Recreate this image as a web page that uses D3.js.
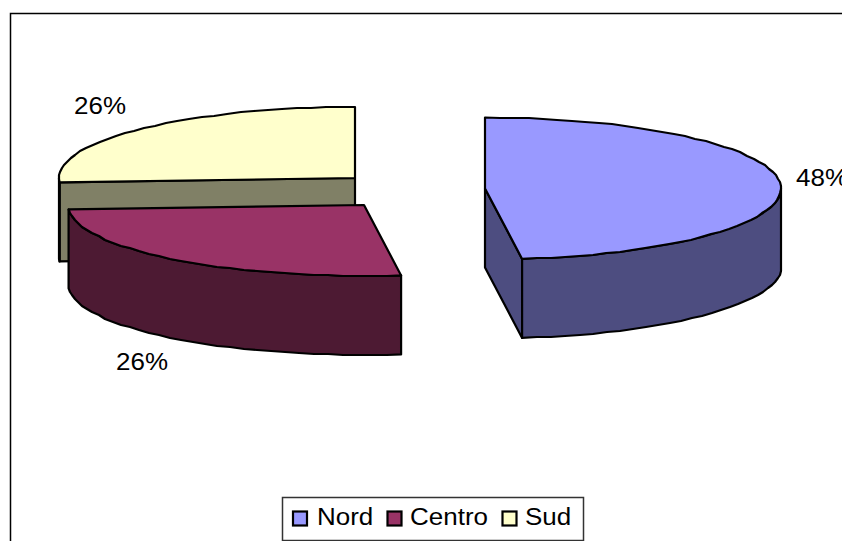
<!DOCTYPE html>
<html><head><meta charset="utf-8">
<script src="https://cdn.jsdelivr.net/npm/d3@7"></script>
<style>html,body{margin:0;padding:0;background:#fff;overflow:hidden}svg{display:block}text{font-family:"Liberation Sans",Arial,sans-serif;fill:#000}</style>
</head><body><svg id="c" width="842" height="541"></svg>
<script>
const categories = ["Nord","Centro","Sud"];
const values = [48,26,26];
const labels = ["48%","26%","26%"];
const topColors = ["#9999FF","#993366","#FFFFCC"];
const sideColors = ["#4D4D80","#4D1A33","#808066"];
const centers = [[485,188.5],[364,205],[355,178]];
const labelPos = [[796,186],[116,370],[74,114]];
const RX = 296, RY = 71, DEPTH = 79;
const STRETCH = 1.13;

const svg = d3.select("#c");
svg.append("path").attr("d","M10.5,541V13.5H842").attr("fill","none").attr("stroke","#000").attr("stroke-width",1.5);

const arcs = d3.pie().sort(null)(values);
const pt = (c,a,dy=0)=>[c[0]+RX*Math.sin(a), c[1]-RY*Math.cos(a)+dy];
const line = d3.line();
// the reference's curved edges are slightly stepped polylines: sample and snap to whole pixels
const arcPts=(c,a0,a1,dy=0)=>{
  const n=Math.max(2,Math.ceil((a1-a0)/0.05));
  return d3.range(n+1).map(i=>{
    const p=pt(c,a0+(a1-a0)*i/n,dy);
    return (i===0||i===n)?p:[Math.round(p[0]),Math.round(p[1])];
  });
};
const style=(s,f)=>s.attr("fill",f).attr("stroke","#000").attr("stroke-width",2.2).attr("stroke-linejoin","round");
function face(c,a0,a1){ return line([c,...arcPts(c,a0,a1)])+"Z"; }
function outer(c,a0,a1){ return line([...arcPts(c,a0,a1),...arcPts(c,a0,a1,DEPTH).reverse()])+"Z"; }
function wall(c,a){ const p=pt(c,a); return line([c,p,[p[0],p[1]+DEPTH],[c[0],c[1]+DEPTH]])+"Z"; }
const addText=(x,y,t)=>svg.append("text").attr("transform",`translate(${x},${y}) scale(${STRETCH},1)`).attr("font-size",23).text(t);

// draw back to front: Sud, Centro, Nord
[2,1,0].forEach(i=>{
  const d=arcs[i], c=centers[i], g=svg.append("g");
  if(i===2){ style(g.append("path").attr("d",wall(c,d.startAngle)),sideColors[i]); }
  if(i===0){ style(g.append("path").attr("d",wall(c,d.endAngle)),sideColors[i]); }
  const a0=Math.max(d.startAngle,Math.PI/2), a1=Math.min(d.endAngle,Math.PI*1.5);
  if(a1>a0) style(g.append("path").attr("d",outer(c,a0,a1)),sideColors[i]);
  style(g.append("path").attr("d",face(c,d.startAngle,d.endAngle)),topColors[i]);
  addText(labelPos[i][0],labelPos[i][1],labels[i]);
});

// legend
svg.append("rect").attr("x",282.5).attr("y",497.5).attr("width",301).attr("height",43).attr("fill","#fff").attr("stroke","#333").attr("stroke-width",1.5);
const lx=[293,387.5,502.5], tx=[317,410,525];
categories.forEach((n,i)=>{
  svg.append("rect").attr("x",lx[i]).attr("y",511.5).attr("width",14).attr("height",14).attr("fill",topColors[i]).attr("stroke","#000").attr("stroke-width",2.2);
  addText(tx[i],525,n);
});
</script></body></html>
